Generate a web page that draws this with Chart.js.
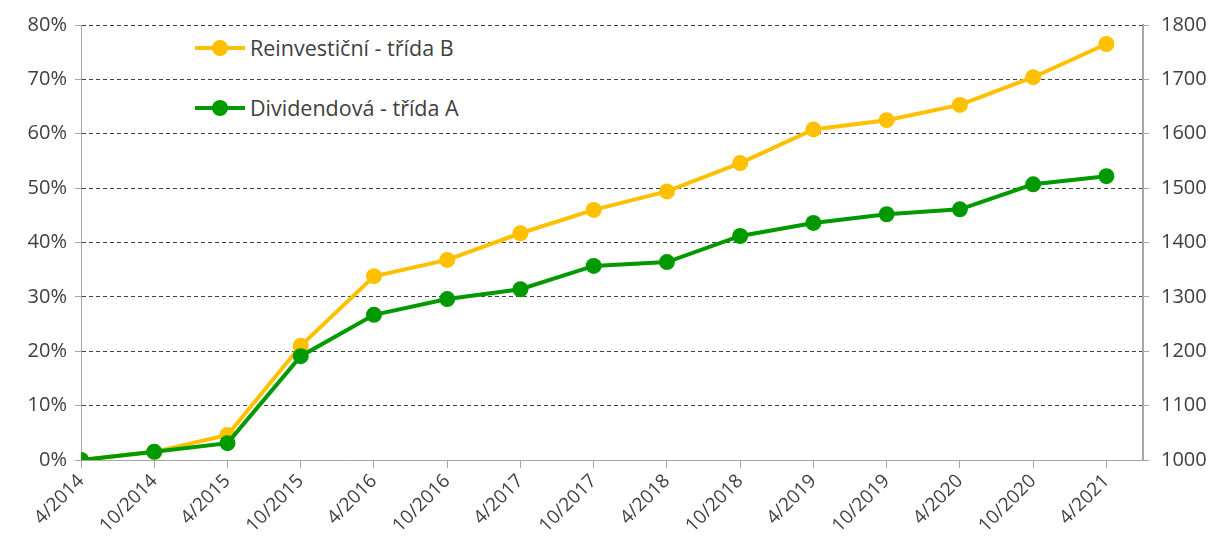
<!DOCTYPE html>
<html>
<head>
<meta charset="utf-8">
<script src="https://cdn.jsdelivr.net/npm/chart.js@4.4.1/dist/chart.umd.min.js"></script>
<style>
  html, body { margin: 0; padding: 0; background: #fff; }
  #wrap { position: relative; width: 1215px; height: 536px; }
  .legend { position: absolute; left: 195px; font-family: "Open Sans", "Noto Sans", sans-serif; font-size: 21.5px; color: #404040; display: flex; align-items: center; background: #fff; padding-right: 4px; }
  .legend .mk { position: relative; width: 50px; height: 18px; margin-right: 5px; }
  .legend .ln { position: absolute; left: 0; right: 0; top: 7px; height: 4px; }
  .legend .dot { position: absolute; left: 17px; top: 1px; width: 16px; height: 16px; border-radius: 50%; }
</style>
</head>
<body>
<div id="wrap">
  <canvas id="chart" width="1215" height="536"></canvas>
  <div class="legend" style="top:33px"><div class="mk"><div class="ln" style="background:#FFC000"></div><div class="dot" style="background:#FFC000"></div></div>Reinvestiční - třída B</div>
  <div class="legend" style="top:93px"><div class="mk"><div class="ln" style="background:#009900"></div><div class="dot" style="background:#009900"></div></div>Dividendová - třída A</div>
</div>
<script>
// data
const labels = ["4/2014", "10/2014", "4/2015", "10/2015", "4/2016", "10/2016", "4/2017", "10/2017",
  "4/2018", "10/2018", "4/2019", "10/2019", "4/2020", "10/2020", "4/2021"];
const reinvest = [0, 1.5, 4.6, 21.0, 33.8, 36.8, 41.7, 46.0, 49.4, 54.6, 60.8, 62.5, 65.3, 70.4, 76.5];
const dividend = [0, 1.5, 3.1, 19.1, 26.7, 29.6, 31.4, 35.7, 36.4, 41.2, 43.6, 45.2, 46.1, 50.7, 52.2];
const leftTicks = [0, 10, 20, 30, 40, 50, 60, 70, 80];
const rightMin = 1000, rightMax = 1800;

const yellow = "#FFC000";
const green = "#009900";
const font = "'Open Sans', 'Noto Sans', sans-serif";

const toXY = (arr) => arr.map((v, i) => ({ x: i, y: v }));

new Chart(document.getElementById("chart"), {
  type: "line",
  data: {
    datasets: [
      {
        label: "Dividendová - třída A",
        data: toXY(dividend),
        borderColor: green,
        backgroundColor: green,
        borderWidth: 4,
        pointRadius: 8,
        pointBorderWidth: 0,
        yAxisID: "y",
      },
      {
        label: "Reinvestiční - třída B",
        data: toXY(reinvest),
        borderColor: yellow,
        backgroundColor: yellow,
        borderWidth: 4,
        pointRadius: 8,
        pointBorderWidth: 0,
        yAxisID: "y",
      },
    ],
  },
  options: {
    responsive: false,
    animation: false,
    layout: { padding: { top: 25, left: 0, right: 0, bottom: 0 } },
    plugins: { legend: { display: false }, tooltip: { enabled: false } },
    scales: {
      x: {
        type: "linear",
        min: 0,
        max: 14.5,
        afterFit: (s) => { s.height = 76; },
        border: { color: "#A6A6A6", width: 1 },
        grid: { drawOnChartArea: false, drawTicks: true, tickLength: 8, color: "#A6A6A6" },
        ticks: {
          stepSize: 1,
          includeBounds: false,
          autoSkip: false,
          minRotation: 45,
          maxRotation: 45,
          padding: 2,
          color: "#404040",
          font: { family: font, size: 19 },
          callback: (v) => (Number.isInteger(v) && labels[v] !== undefined ? labels[v] : ""),
        },
      },
      y: {
        position: "left",
        min: 0,
        max: 80,
        afterFit: (s) => { s.width = 81; },
        afterBuildTicks: (s) => { s.ticks = leftTicks.map((v) => ({ value: v })); },
        border: { color: "#A6A6A6", width: 1, dash: [4, 3] },
        grid: {
          color: (c) => (c.tick && c.tick.value === 0 ? "rgba(0,0,0,0)" : "#404040"),
          tickLength: 6,
          tickColor: "#A6A6A6",
        },
        ticks: {
          padding: 8,
          color: "#404040",
          font: { family: font, size: 20 },
          callback: (v) => v + "%",
        },
      },
      y2: {
        position: "right",
        min: rightMin,
        max: rightMax,
        afterFit: (s) => { s.width = 72; },
        border: { color: "#A6A6A6", width: 2 },
        grid: { drawOnChartArea: false, tickLength: 6, color: "#A6A6A6" },
        ticks: {
          stepSize: 100,
          padding: 12,
          color: "#404040",
          font: { family: font, size: 20 },
          callback: (v) => String(v),
        },
      },
    },
  },
});
</script>
</body>
</html>
